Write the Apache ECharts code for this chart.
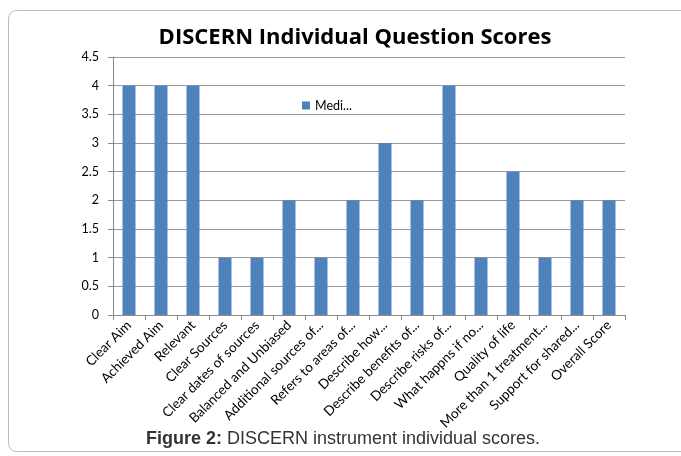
<!DOCTYPE html>
<html><head><meta charset="utf-8">
<script src="https://cdn.jsdelivr.net/npm/echarts@6/dist/echarts.min.js"></script>
<style>html,body{margin:0;padding:0;background:#fff;}#c{width:681px;height:456px;}</style>
</head><body><div id="c"></div>
<script>
const categories = ["Clear Aim","Achieved Aim","Relevant","Clear Sources","Clear dates of sources","Balanced and Unbiased","Additional sources of...","Refers to areas of...","Describe how...","Describe benefits of...","Describe risks of...","What happns if no...","Quality of life","More than 1 treatment...","Support for shared...","Overall Score"];
const medianScores = [4,4,4,1,1,2,1,2,3,2,4,1,2.5,1,2,2];
const yTicks = [0,0.5,1,1.5,2,2.5,3,3.5,4,4.5];
const seriesName = "Median";
const legendLabel = "Medi...";
const titleText = "DISCERN Individual Question Scores";

const chart = echarts.init(document.getElementById('c'));
chart.setOption({
  animation:false,
  backgroundColor:'#fff',
  graphic:[
    {type:'rect',shape:{x:8.5,y:10.5,width:700,height:441,r:8},
      style:{fill:'none',stroke:'#bbb',lineWidth:1},silent:true,z:-1},
    {type:'text',x:355,y:27,style:{text:titleText,align:'center',verticalAlign:'top',
      fontFamily:'Open Sans',fontWeight:'bold',fontSize:22,fill:'#000'}},
    {type:'text',x:343,y:430,style:{
      text:'{b|Figure 2:} DISCERN instrument individual scores.',align:'center',verticalAlign:'top',
      rich:{b:{fontWeight:'bold',fontFamily:'Liberation Sans',fontSize:18,fill:'#333'}},
      fontFamily:'Liberation Sans',fontSize:18,fill:'#333'}}
  ],
  legend:{data:[seriesName],left:297,top:94,icon:'rect',itemWidth:8,itemHeight:8,itemGap:4,
    formatter:()=>legendLabel,textStyle:{fontFamily:'Lato',fontSize:12.5,color:'#000'}},
  grid:{left:113,top:57,width:512,height:258,containLabel:false},
  xAxis:{type:'category',data:categories,
    axisLine:{lineStyle:{color:'#888'}},
    axisTick:{show:true,alignWithLabel:false,length:5,lineStyle:{color:'#888'}},
    axisLabel:{interval:0,rotate:45,fontFamily:'Lato',fontSize:13.5,color:'#000',margin:8}},
  yAxis:{type:'value',min:yTicks[0],max:yTicks[yTicks.length-1],interval:0.5,
    axisLine:{show:true,lineStyle:{color:'#888'}},
    axisTick:{show:true,length:5,lineStyle:{color:'#888'}},
    splitLine:{lineStyle:{color:'#999'}},
    axisLabel:{fontFamily:'Lato',fontSize:12.5,color:'#000',margin:14,formatter:v=>String(v)}},
  series:[{name:seriesName,type:'bar',data:medianScores,barWidth:13,
    itemStyle:{color:'#4F81BD'}}]
});
</script></body></html>
